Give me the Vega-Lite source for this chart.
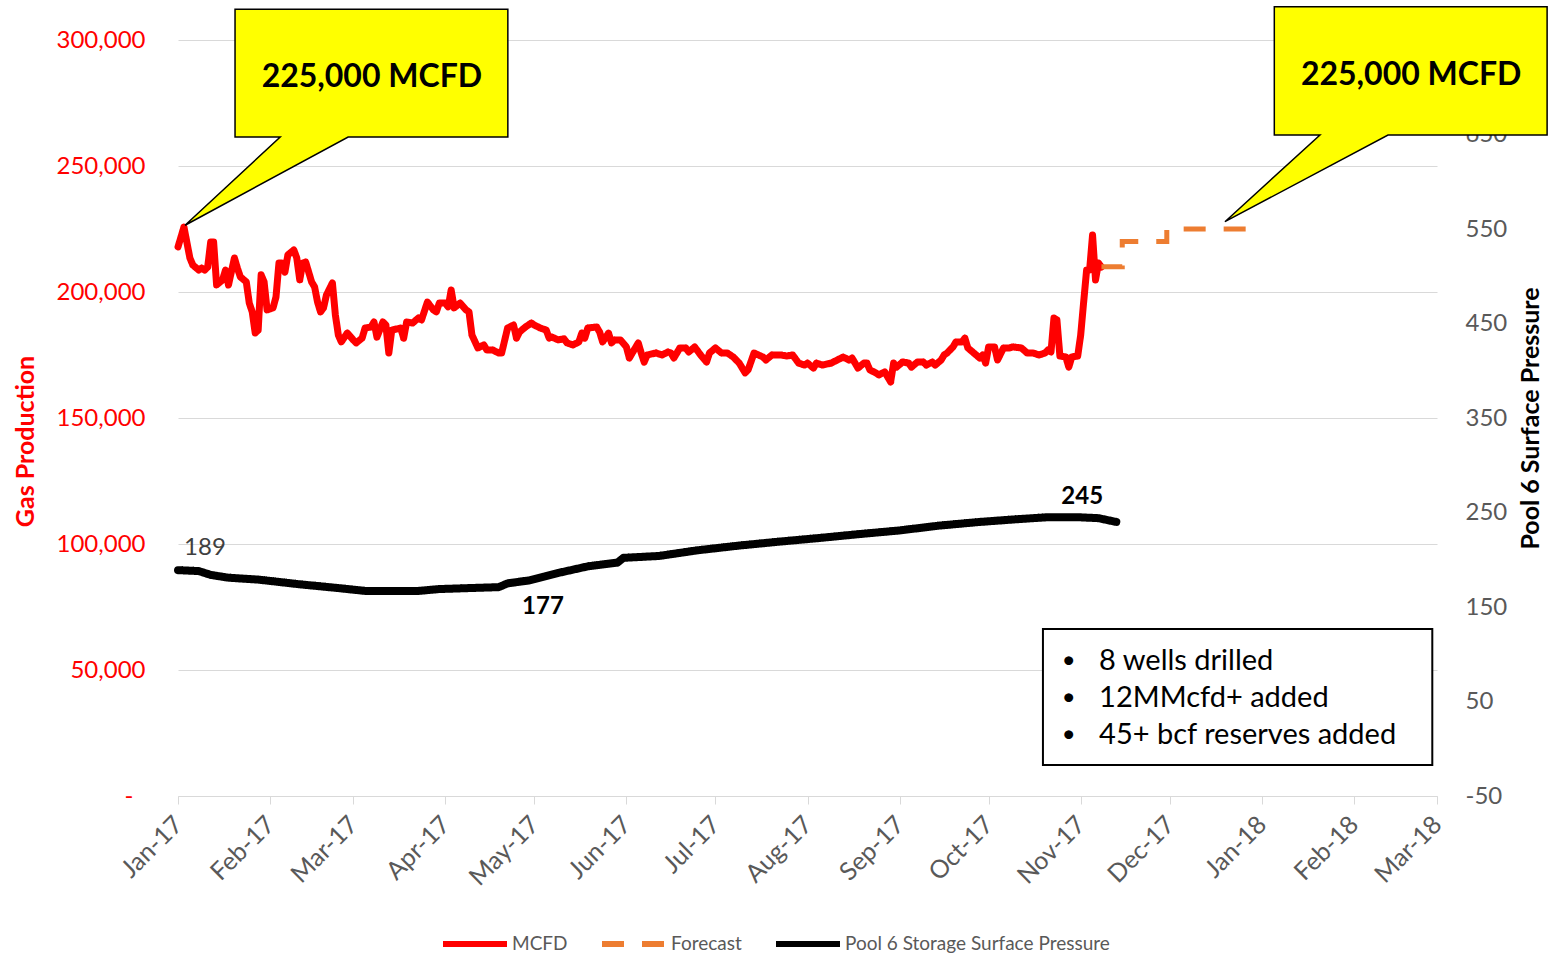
{
  "$schema": "https://vega.github.io/schema/vega-lite/v6.json",
  "width": 1259,
  "height": 756,
  "autosize": {"type": "none"},
  "padding": {"left": 178, "top": 40, "right": 115, "bottom": 157},
  "background": "white",
  "config": {
    "font": "Lato",
    "view": {"stroke": null},
    "axis": {"labelFont": "Lato", "titleFont": "Lato"},
    "text": {"font": "Lato"}
  },
  "datasets": {
    "mcfd": [
      {"date":"2017-01-01","value":217900},{"date":"2017-01-02","value":221800},{"date":"2017-01-03","value":225800},{"date":"2017-01-05","value":213500},{"date":"2017-01-06","value":210700},{"date":"2017-01-08","value":208700},{"date":"2017-01-09","value":209500},{"date":"2017-01-10","value":208700},{"date":"2017-01-11","value":209900},{"date":"2017-01-12","value":219800},{"date":"2017-01-13","value":219800},{"date":"2017-01-14","value":202800},{"date":"2017-01-16","value":204800},{"date":"2017-01-17","value":208700},{"date":"2017-01-18","value":202800},{"date":"2017-01-20","value":213500},{"date":"2017-01-21","value":209500},{"date":"2017-01-22","value":206000},{"date":"2017-01-24","value":204000},{"date":"2017-01-25","value":195600},{"date":"2017-01-26","value":192100},{"date":"2017-01-27","value":183700},{"date":"2017-01-28","value":184900},{"date":"2017-01-29","value":206800},{"date":"2017-01-30","value":204000},{"date":"2017-01-31","value":192900},
      {"date":"2017-02-02","value":193700},{"date":"2017-02-03","value":198000},{"date":"2017-02-04","value":211500},{"date":"2017-02-05","value":211500},{"date":"2017-02-06","value":207900},{"date":"2017-02-07","value":214700},{"date":"2017-02-09","value":216700},{"date":"2017-02-10","value":213500},{"date":"2017-02-11","value":204800},{"date":"2017-02-12","value":211500},{"date":"2017-02-13","value":211900},{"date":"2017-02-15","value":204000},{"date":"2017-02-16","value":202000},{"date":"2017-02-17","value":196000},{"date":"2017-02-18","value":192100},{"date":"2017-02-19","value":193700},{"date":"2017-02-20","value":198800},{"date":"2017-02-22","value":203600},{"date":"2017-02-23","value":190900},{"date":"2017-02-24","value":182900},{"date":"2017-02-25","value":180200},{"date":"2017-02-27","value":183700},
      {"date":"2017-03-01","value":181000},{"date":"2017-03-02","value":179800},{"date":"2017-03-04","value":181700},{"date":"2017-03-05","value":185700},{"date":"2017-03-07","value":186100},{"date":"2017-03-08","value":188100},{"date":"2017-03-09","value":182100},{"date":"2017-03-11","value":188100},{"date":"2017-03-12","value":186900},{"date":"2017-03-13","value":175800},{"date":"2017-03-14","value":184900},{"date":"2017-03-17","value":185700},{"date":"2017-03-18","value":181700},{"date":"2017-03-19","value":188100},{"date":"2017-03-21","value":187700},{"date":"2017-03-23","value":189700},{"date":"2017-03-24","value":188900},{"date":"2017-03-26","value":196000},{"date":"2017-03-28","value":192900},{"date":"2017-03-29","value":192100},{"date":"2017-03-30","value":195600},
      {"date":"2017-04-01","value":195600},{"date":"2017-04-02","value":194100},{"date":"2017-04-03","value":200800},{"date":"2017-04-04","value":193700},{"date":"2017-04-06","value":195600},{"date":"2017-04-08","value":192900},{"date":"2017-04-09","value":192100},{"date":"2017-04-10","value":182900},{"date":"2017-04-12","value":177800},{"date":"2017-04-14","value":179000},{"date":"2017-04-15","value":177000},{"date":"2017-04-17","value":177000},{"date":"2017-04-19","value":175800},{"date":"2017-04-20","value":175800},{"date":"2017-04-22","value":185700},{"date":"2017-04-24","value":186900},{"date":"2017-04-25","value":181700},{"date":"2017-04-26","value":184100},{"date":"2017-04-28","value":186100},{"date":"2017-04-30","value":187700},
      {"date":"2017-05-01","value":186900},{"date":"2017-05-03","value":185700},{"date":"2017-05-05","value":184900},{"date":"2017-05-06","value":181700},{"date":"2017-05-07","value":182100},{"date":"2017-05-09","value":181000},{"date":"2017-05-11","value":181400},{"date":"2017-05-12","value":179800},{"date":"2017-05-14","value":179000},{"date":"2017-05-16","value":180200},{"date":"2017-05-17","value":183700},{"date":"2017-05-18","value":181700},{"date":"2017-05-19","value":185700},{"date":"2017-05-22","value":186100},{"date":"2017-05-23","value":184100},{"date":"2017-05-24","value":180200},{"date":"2017-05-26","value":183700},{"date":"2017-05-27","value":179800},{"date":"2017-05-28","value":181000},{"date":"2017-05-30","value":181000},
      {"date":"2017-06-01","value":178200},{"date":"2017-06-02","value":173800},{"date":"2017-06-04","value":177800},{"date":"2017-06-05","value":179800},{"date":"2017-06-06","value":175800},{"date":"2017-06-07","value":172200},{"date":"2017-06-08","value":175000},{"date":"2017-06-11","value":175800},{"date":"2017-06-13","value":175000},{"date":"2017-06-15","value":176200},{"date":"2017-06-16","value":175800},{"date":"2017-06-17","value":173800},{"date":"2017-06-19","value":177800},{"date":"2017-06-21","value":177800},{"date":"2017-06-22","value":176200},{"date":"2017-06-24","value":178200},{"date":"2017-06-26","value":175000},{"date":"2017-06-28","value":172200},{"date":"2017-06-29","value":175800},
      {"date":"2017-07-01","value":177800},{"date":"2017-07-03","value":175800},{"date":"2017-07-05","value":175800},{"date":"2017-07-07","value":174200},{"date":"2017-07-09","value":171800},{"date":"2017-07-11","value":167900},{"date":"2017-07-12","value":169100},{"date":"2017-07-14","value":175800},{"date":"2017-07-17","value":174200},{"date":"2017-07-18","value":173000},{"date":"2017-07-20","value":175000},{"date":"2017-07-23","value":175000},{"date":"2017-07-25","value":174600},{"date":"2017-07-27","value":175000},{"date":"2017-07-29","value":171800},{"date":"2017-07-31","value":171000},
      {"date":"2017-08-01","value":171800},{"date":"2017-08-03","value":169800},{"date":"2017-08-04","value":171800},{"date":"2017-08-06","value":171000},{"date":"2017-08-09","value":171800},{"date":"2017-08-11","value":173000},{"date":"2017-08-13","value":174200},{"date":"2017-08-15","value":173000},{"date":"2017-08-16","value":173800},{"date":"2017-08-18","value":169800},{"date":"2017-08-20","value":171800},{"date":"2017-08-21","value":171800},{"date":"2017-08-22","value":169100},{"date":"2017-08-24","value":167900},{"date":"2017-08-25","value":167100},{"date":"2017-08-27","value":168300},{"date":"2017-08-29","value":164300},{"date":"2017-08-30","value":171800},{"date":"2017-08-31","value":170200},
      {"date":"2017-09-02","value":172200},{"date":"2017-09-04","value":171800},{"date":"2017-09-05","value":170200},{"date":"2017-09-07","value":172200},{"date":"2017-09-09","value":172200},{"date":"2017-09-10","value":171000},{"date":"2017-09-12","value":172200},{"date":"2017-09-13","value":171000},{"date":"2017-09-15","value":173000},{"date":"2017-09-16","value":175000},{"date":"2017-09-17","value":175800},{"date":"2017-09-19","value":178200},{"date":"2017-09-20","value":180200},{"date":"2017-09-22","value":180200},{"date":"2017-09-23","value":181700},{"date":"2017-09-24","value":177800},{"date":"2017-09-26","value":175800},{"date":"2017-09-28","value":173800},{"date":"2017-09-29","value":175000},{"date":"2017-09-30","value":171800},
      {"date":"2017-10-01","value":178200},{"date":"2017-10-03","value":178200},{"date":"2017-10-04","value":173000},{"date":"2017-10-06","value":177800},{"date":"2017-10-08","value":177800},{"date":"2017-10-09","value":178200},{"date":"2017-10-12","value":177800},{"date":"2017-10-14","value":175800},{"date":"2017-10-16","value":175800},{"date":"2017-10-18","value":175000},{"date":"2017-10-20","value":175800},{"date":"2017-10-21","value":177000},{"date":"2017-10-22","value":176200},{"date":"2017-10-23","value":189700},{"date":"2017-10-24","value":188900},{"date":"2017-10-25","value":174600},{"date":"2017-10-27","value":174200},{"date":"2017-10-28","value":170200},{"date":"2017-10-29","value":174200},{"date":"2017-10-31","value":174600},
      {"date":"2017-11-01","value":182900},{"date":"2017-11-02","value":196000},{"date":"2017-11-03","value":208700},{"date":"2017-11-04","value":208700},{"date":"2017-11-05","value":222600},{"date":"2017-11-06","value":204800},{"date":"2017-11-07","value":211500},{"date":"2017-11-08","value":209900}
    ],
    "forecast": [
      {"date":"2017-11-08","value":210000},{"date":"2017-11-15","value":220000},{"date":"2017-11-30","value":225000},{"date":"2017-12-27","value":225000}
    ],
    "pressure": [
      {"date":"2017-01-01","psi":189},{"date":"2017-01-08","psi":188},{"date":"2017-01-12","psi":184},{"date":"2017-01-18","psi":181},{"date":"2017-01-28","psi":179},{"date":"2017-02-11","psi":174},{"date":"2017-02-24","psi":170},{"date":"2017-03-05","psi":167},{"date":"2017-03-16","psi":167},{"date":"2017-03-23","psi":167},{"date":"2017-03-30","psi":169},{"date":"2017-04-09","psi":170},{"date":"2017-04-19","psi":171},{"date":"2017-04-22","psi":175},{"date":"2017-04-29","psi":178},{"date":"2017-05-09","psi":186},{"date":"2017-05-19","psi":193},{"date":"2017-05-29","psi":197},{"date":"2017-05-31","psi":202},{"date":"2017-06-12","psi":204},{"date":"2017-06-25","psi":210},{"date":"2017-07-09","psi":215},{"date":"2017-07-22","psi":219},{"date":"2017-08-05","psi":223},{"date":"2017-08-18","psi":227},{"date":"2017-09-01","psi":231},{"date":"2017-09-14","psi":236},{"date":"2017-09-28","psi":240},{"date":"2017-10-11","psi":243},{"date":"2017-10-21","psi":245},{"date":"2017-10-31","psi":245},{"date":"2017-11-07","psi":244},{"date":"2017-11-13","psi":240}
    ],
    "plabels": [
      {"date":"2017-01-10T02:00:00Z","psi":212,"text":"189","kind":"start"},
      {"date":"2017-05-03T22:00:00Z","psi":150,"text":"177","kind":"min"},
      {"date":"2017-11-01T12:00:00Z","psi":266,"text":"245","kind":"max"}
    ],
    "callouts": [
      {"id":"c1","ord":1,"date":"2017-01-20T05:00:00Z","value":312200},
      {"id":"c1","ord":2,"date":"2017-04-22T02:00:00Z","value":312200},
      {"id":"c1","ord":3,"date":"2017-04-22T02:00:00Z","value":261500},
      {"id":"c1","ord":4,"date":"2017-02-27T07:00:00Z","value":261500},
      {"id":"c1","ord":5,"date":"2017-01-03T09:00:00Z","value":226500},
      {"id":"c1","ord":6,"date":"2017-02-04T10:00:00Z","value":261500},
      {"id":"c1","ord":7,"date":"2017-01-20T05:00:00Z","value":261500},
      {"id":"c2","ord":1,"date":"2018-01-05T05:00:00Z","value":313200},
      {"id":"c2","ord":2,"date":"2018-04-07T02:00:00Z","value":313200},
      {"id":"c2","ord":3,"date":"2018-04-07T02:00:00Z","value":262300},
      {"id":"c2","ord":4,"date":"2018-02-12T12:00:00Z","value":262300},
      {"id":"c2","ord":5,"date":"2017-12-19T14:00:00Z","value":227900},
      {"id":"c2","ord":6,"date":"2018-01-20T14:00:00Z","value":262300},
      {"id":"c2","ord":7,"date":"2018-01-05T05:00:00Z","value":262300}
    ],
    "callouttext": [
      {"date":"2017-03-07T07:00:00Z","value":285300,"text":"225,000 MCFD"},
      {"date":"2018-02-20T07:00:00Z","value":286100,"text":"225,000 MCFD"}
    ],
    "notebox": [
      {"date":"2017-10-19T07:00:00Z","date2":"2018-02-27T10:00:00Z","value":66300,"value2":12300}
    ],
    "notes": [
      {"date":"2017-11-07T05:00:00Z","bdate":"2017-10-28T00:00:00Z","value":53600,"text":"8 wells drilled"},
      {"date":"2017-11-07T05:00:00Z","bdate":"2017-10-28T00:00:00Z","value":38900,"text":"12MMcfd+ added"},
      {"date":"2017-11-07T05:00:00Z","bdate":"2017-10-28T00:00:00Z","value":24200,"text":"45+ bcf reserves added"}
    ]
  },
  "encoding": {
    "x": {
      "field": "date",
      "type": "temporal",
      "scale": {
        "type": "utc",
        "nice": false,
        "domain": [{"year": 2017, "month": 1, "date": 1, "utc": true}, {"year": 2018, "month": 3, "date": 1, "utc": true}]
      },
      "axis": {
        "title": null,
        "format": "%b-%y",
        "tickCount": {"interval": "month", "step": 1},
        "labelAngle": -45,
        "labelAlign": "right",
        "labelBaseline": "middle",
        "labelFontSize": 25,
        "labelColor": "#595959",
        "labelPadding": 16,
        "labelOverlap": false,
        "labelFlush": false,
        "tickSize": 8,
        "tickColor": "#d9d9d9",
        "domainColor": "#d9d9d9",
        "grid": false
      }
    }
  },
  "layer": [
    {
      "encoding": {
        "y": {
          "field": "value",
          "type": "quantitative",
          "scale": {"domain": [0, 300000], "nice": false, "zero": false},
          "axis": {
            "orient": "left",
            "title": "Gas Production",
            "titleColor": "#ff0000",
            "titleFontSize": 25,
            "titleFontWeight": "bold",
            "titlePadding": 18,
            "titleY": 401,
            "values": [0, 50000, 100000, 150000, 200000, 250000, 300000],
            "labelExpr": "datum.value === 0 ? '-' : format(datum.value, ',')",
            "labelColor": "#ff0000",
            "labelFontSize": 24,
            "labelPadding": {"condition": {"test": "datum.value === 0", "value": 45}, "value": 33},
            "ticks": false,
            "domain": false,
            "grid": true,
            "gridColor": "#d9d9d9",
            "gridWidth": 1
          }
        }
      },
      "layer": [
        {
          "data": {"name": "mcfd"},
          "mark": {"type": "line", "strokeWidth": 7, "strokeJoin": "round", "strokeCap": "round"},
          "encoding": {
            "color": {
              "datum": "MCFD",
              "type": "nominal",
              "scale": {"domain": ["MCFD", "Forecast", "Pool 6 Storage Surface Pressure"], "range": ["#ff0000", "#ed7d31", "#000000"]},
              "legend": {"orient": "none", "legendX": 262, "legendY": 869, "direction": "horizontal", "title": null, "symbolType": "stroke", "symbolSize": 4096, "symbolStrokeWidth": 6, "labelFontSize": 19, "labelColor": "#595959", "labelFont": "Lato", "labelLimit": 500, "columnPadding": 22, "labelOffset": 2, "padding": 0}
            },
            "strokeDash": {
              "datum": "MCFD",
              "type": "nominal",
              "scale": {"domain": ["MCFD", "Forecast", "Pool 6 Storage Surface Pressure"], "range": [[1, 0], [22, 18], [1, 0]]},
              "legend": {"orient": "none", "legendX": 262, "legendY": 869, "direction": "horizontal", "title": null, "symbolType": "stroke", "symbolSize": 4096, "symbolStrokeWidth": 6, "labelFontSize": 19, "labelColor": "#595959", "labelFont": "Lato", "labelLimit": 500, "columnPadding": 22, "labelOffset": 2, "padding": 0}
            }
          }
        },
        {
          "data": {"name": "forecast"},
          "mark": {"type": "line", "strokeWidth": 5, "interpolate": "step-after"},
          "encoding": {
            "color": {"datum": "Forecast", "type": "nominal"},
            "strokeDash": {"datum": "Forecast", "type": "nominal"}
          }
        },
        {
          "data": {"name": "callouts"},
          "mark": {"type": "line", "interpolate": "linear-closed", "fill": "#ffff00", "stroke": "#000000", "strokeWidth": 1.5, "strokeJoin": "miter", "clip": false},
          "encoding": {
            "detail": {"field": "id", "type": "nominal"},
            "order": {"field": "ord", "type": "quantitative"}
          }
        },
        {
          "data": {"name": "callouttext"},
          "mark": {"type": "text", "fontSize": 32, "fontWeight": "bold", "color": "#000000", "align": "center", "baseline": "middle"},
          "encoding": {"text": {"field": "text"}}
        },
        {
          "data": {"name": "notebox"},
          "mark": {"type": "rect", "fill": "#ffffff", "stroke": "#000000", "strokeWidth": 2},
          "encoding": {
            "x2": {"field": "date2"},
            "y2": {"field": "value2"}
          }
        },
        {
          "data": {"name": "notes"},
          "mark": {"type": "text", "fontSize": 29, "color": "#000000", "align": "left", "baseline": "middle"},
          "encoding": {"text": {"field": "text"}}
        },
        {
          "data": {"name": "notes"},
          "mark": {"type": "text", "fontSize": 24, "color": "#000000", "align": "center", "baseline": "middle", "text": "•"},
          "encoding": {"x": {"field": "bdate", "type": "temporal"}}
        }
      ]
    },
    {
      "encoding": {
        "y": {
          "field": "psi",
          "type": "quantitative",
          "scale": {"domain": [-50, 750], "nice": false, "zero": false},
          "axis": {
            "orient": "right",
            "title": "Pool 6 Surface Pressure",
            "titleColor": "#000000",
            "titleFontSize": 25,
            "titleFontWeight": "bold",
            "titleAngle": 270,
            "titleBaseline": "top",
            "titlePadding": 12,
            "values": [-50, 50, 150, 250, 350, 450, 550, 650, 750],
            "labelExpr": "datum.value + ''",
            "labelColor": "#595959",
            "labelFontSize": 24,
            "labelPadding": 28,
            "ticks": false,
            "domain": false,
            "grid": false
          }
        }
      },
      "layer": [
        {
          "data": {"name": "pressure"},
          "mark": {"type": "line", "strokeWidth": 8, "strokeJoin": "round", "strokeCap": "round"},
          "encoding": {
            "color": {"datum": "Pool 6 Storage Surface Pressure", "type": "nominal"},
            "strokeDash": {"datum": "Pool 6 Storage Surface Pressure", "type": "nominal"}
          }
        },
        {
          "data": {"name": "plabels"},
          "transform": [{"filter": "datum.kind === 'start'"}],
          "mark": {"type": "text", "fontSize": 24, "align": "center", "baseline": "middle", "fill": "#404040"},
          "encoding": {"text": {"field": "text"}}
        },
        {
          "data": {"name": "plabels"},
          "transform": [{"filter": "datum.kind !== 'start'"}],
          "mark": {"type": "text", "fontSize": 24, "fontWeight": "bold", "align": "center", "baseline": "middle", "fill": "#000000"},
          "encoding": {"text": {"field": "text"}}
        }
      ]
    }
  ],
  "resolve": {"scale": {"y": "independent"}}
}
